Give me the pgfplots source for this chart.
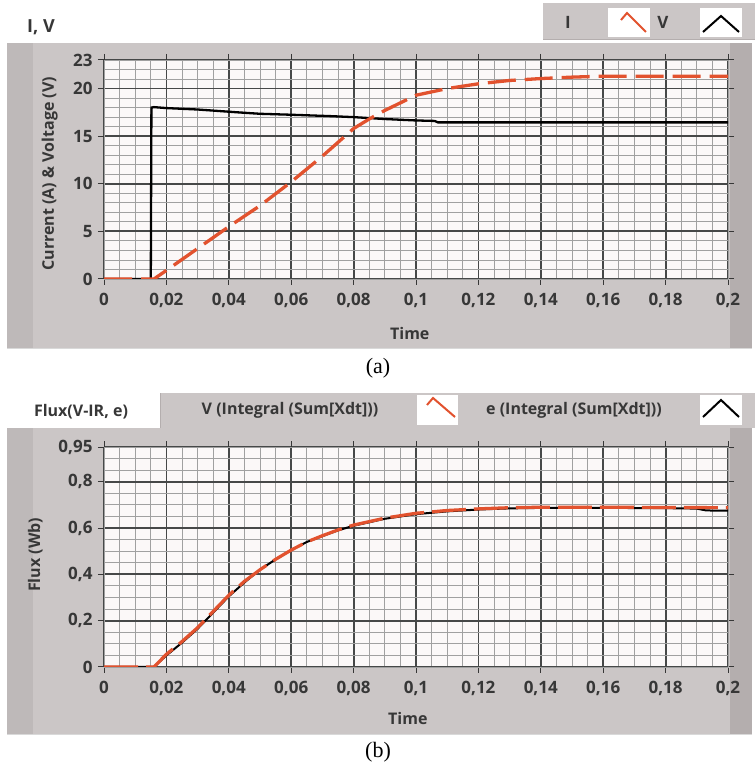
\documentclass[border=0pt]{standalone}
\usepackage{fontspec}
\setmainfont{Open Sans}
\newfontfamily\capfont{Liberation Serif}
\usepackage{pgfplots}
\pgfplotsset{compat=1.18}
\definecolor{panel}{RGB}{203,198,198}
\definecolor{panelL}{RGB}{190,185,185}
\definecolor{panelR}{RGB}{180,174,174}
\definecolor{plotbg}{RGB}{251,248,248}
\definecolor{majgrid}{RGB}{70,72,72}
\definecolor{mingrid}{RGB}{160,160,160}
\definecolor{txt}{RGB}{55,55,55}
\definecolor{ired}{RGB}{226,82,46}
\pgfplotsset{
  common/.style={
    scale only axis, anchor=south west,
    xmin=0, xmax=0.2,
    xtick={0,0.02,0.04,0.06,0.08,0.1,0.12,0.14,0.16,0.18,0.2},
    minor xtick={0.005,0.01,0.015,0.025,0.03,0.035,0.045,0.05,0.055,0.065,0.07,0.075,0.085,0.09,0.095,0.105,0.11,0.115,0.125,0.13,0.135,0.145,0.15,0.155,0.165,0.17,0.175,0.185,0.19,0.195},
    scaled x ticks=false, scaled y ticks=false,
    grid=both,
    major grid style={draw=majgrid, line width=1.8pt},
    minor grid style={draw=mingrid, line width=0.9pt},
    axis background/.style={fill=plotbg},
    axis line style={draw=mingrid, line width=0.8pt},
    tick align=outside, major tick length=6pt, minor tick length=0pt,
    major tick style={draw=txt, line width=1pt},
    every tick label/.append style={font=\fontsize{17}{20}\selectfont\bfseries, text=txt},
    xticklabel style={yshift=-5pt},
    yticklabel style={xshift=-2pt},
    label style={font=\fontsize{16}{19}\selectfont\bfseries, text=txt},
    /pgf/number format/.cd, use comma, fixed, precision=2, 1000 sep={}, assume math mode=true,
  }
}
\begin{document}
\begin{tikzpicture}[x=1pt,y=1pt]
\useasboundingbox (0,0) rectangle (755,771);
% top panel
\fill[panel] (7,422) rectangle (752,728);
\fill[panelL] (7,422) rectangle (33,728);
\fill[panelR] (730,422) rectangle (752,728);
\draw[white!85!black, line width=1pt] (7,422) -- (752,422);
% top legend
\fill[panel] (543,731) rectangle (755,768);
\draw[panelR, line width=1pt] (543,731) -- (755,731);
\fill[white] (608,734) rectangle (650,763);
\fill[white] (700,734) rectangle (742,763);
\draw[ired, line width=2pt] (621,751) -- (627,758) -- (646,739);
\draw[black, line width=2pt] (703,739) -- (721,755) -- (739,739);
\node[font=\fontsize{17}{20}\selectfont\bfseries, text=txt] at (568,749) {I};
\node[font=\fontsize{17}{20}\selectfont\bfseries, text=txt] at (663,749) {V};
\node[font=\fontsize{18}{21}\selectfont\bfseries, text=txt] at (41,744) {I, V};
% bottom panel
\fill[panel] (7,36) rectangle (752,343);
\fill[panelL] (7,36) rectangle (33,343);
\fill[panelR] (730,36) rectangle (752,343);
\draw[white!85!black, line width=1pt] (7,36) -- (752,36);
% bottom legend tab
\fill[panel] (160,343) rectangle (755,378);
\draw[panelR, line width=1pt] (160,343) -- (160,378);
\fill[white] (417,346) rectangle (458,376);
\fill[white] (700,346) rectangle (742,376);
\draw[ired, line width=2pt] (427,366) -- (433,373) -- (455,354);
\draw[black, line width=2pt] (703,354) -- (721,371) -- (739,354);
\node[font=\fontsize{16}{19}\selectfont\bfseries, text=txt] at (290,361) {V (Integral (Sum[Xdt]))};
\node[font=\fontsize{16}{19}\selectfont\bfseries, text=txt] at (574,361) {e (Integral (Sum[Xdt]))};
\node[font=\fontsize{16}{19}\selectfont\bfseries, text=txt] at (81,359) {Flux(V-IR, e)};
% captions
\node[font=\capfont\fontsize{22}{24}\selectfont] at (378,403) {(a)};
\node[font=\capfont\fontsize{22}{24}\selectfont] at (378,19) {(b)};

\begin{axis}[common, at={(104pt,492pt)}, width=624pt, height=219pt,
  ymin=0, ymax=23,
  ytick={0,5,10,15,20,23},
  minor ytick={1,2,3,4,6,7,8,9,11,12,13,14,16,17,18,19,21,22},
  xlabel={Time}, ylabel={Current (A) \& Voltage (V)},
  xlabel style={at={(axis description cs:0.49,-0.25)}, anchor=center},
  ylabel style={at={(axis description cs:-0.087,0.48)}, anchor=center},
]
\addplot[black, line width=2.3pt] coordinates {
(0,0) (0.015,0) (0.0152,18.0) (0.016,18.05) (0.02,17.95) (0.03,17.8) (0.043,17.5) (0.05,17.35) (0.06,17.25) (0.073,17.1) (0.08,17.0) (0.09,16.8) (0.1,16.65) (0.106,16.6) (0.107,16.45) (0.2,16.45)};
\addplot[ired, line width=3.3pt, dash pattern=on 28pt off 9pt] coordinates {
(0,0) (0.016,0) (0.02,0.9) (0.03,3.2) (0.04,5.5) (0.05,7.7) (0.06,10.2) (0.07,12.9) (0.08,15.8) (0.085,16.8) (0.09,17.7) (0.1,19.3) (0.11,20.0) (0.12,20.5) (0.13,20.85) (0.14,21.05) (0.15,21.2) (0.16,21.3) (0.2,21.3)};
\end{axis}

\begin{axis}[common, at={(104pt,104pt)}, width=624pt, height=220pt,
  ymin=0, ymax=0.95,
  ytick={0,0.2,0.4,0.6,0.8,0.95},
  minor ytick={0.05,0.1,0.15,0.25,0.3,0.35,0.45,0.5,0.55,0.65,0.7,0.75,0.85,0.9},
  xlabel={Time}, ylabel={Flux (Wb)},
  xlabel style={at={(axis description cs:0.487,-0.232)}, anchor=center},
  ylabel style={at={(axis description cs:-0.11,0.51)}, anchor=center},
]
\addplot[black, line width=2pt] coordinates {
(0,0) (0.016,0) (0.02,0.05) (0.025,0.105) (0.03,0.165) (0.035,0.235) (0.04,0.305) (0.045,0.365) (0.05,0.42) (0.055,0.465) (0.06,0.505) (0.065,0.54) (0.07,0.565) (0.075,0.59) (0.08,0.61) (0.09,0.64) (0.1,0.66) (0.11,0.672) (0.12,0.68) (0.13,0.685) (0.14,0.687) (0.16,0.687) (0.18,0.686) (0.19,0.684) (0.193,0.676) (0.2,0.675)};
\addplot[ired, line width=3.2pt, dash pattern=on 34pt off 8pt] coordinates {
(0,0) (0.016,0) (0.02,0.055) (0.025,0.11) (0.03,0.17) (0.035,0.24) (0.04,0.31) (0.045,0.37) (0.05,0.42) (0.055,0.465) (0.06,0.505) (0.065,0.54) (0.07,0.567) (0.075,0.592) (0.08,0.613) (0.09,0.643) (0.1,0.664) (0.11,0.676) (0.12,0.683) (0.13,0.688) (0.14,0.69) (0.16,0.69) (0.18,0.689) (0.2,0.688)};
\end{axis}
\end{tikzpicture}
\end{document}
